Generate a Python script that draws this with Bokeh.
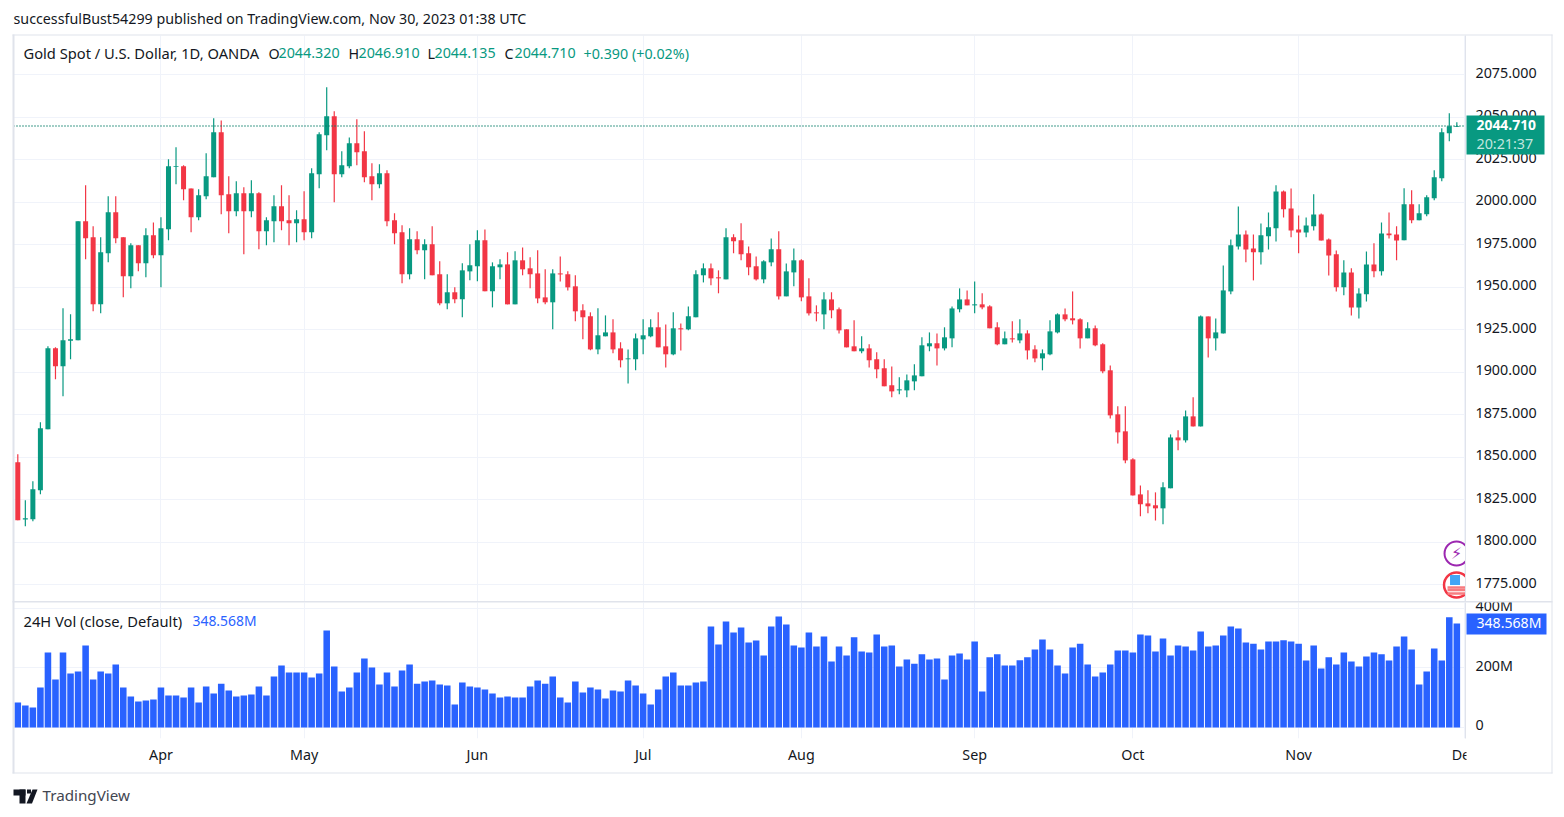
from bokeh.plotting import figure
from bokeh.layouts import column
from bokeh.models import (ColumnDataSource, FixedTicker, LinearAxis, PrintfTickFormatter, Range1d, Span)
from bokeh.embed import file_html
from bokeh.resources import INLINE
from bokeh.core.properties import value

opens = [1846.9,1813.3,1813.4,1830.4,1866.3,1914.0,1903.4,1918.4,1918.7,1988.7,
 1979.2,1939.8,1969.8,1994.0,1979.2,1956.3,1974.5,1964.0,1980.4,1968.7,
 1984.0,2020.6,2021.0,2008.0,1991.0,2003.4,2014.5,2041.0,2004.5,1994.5,
 2005.1,1994.5,2005.1,1982.8,1988.7,1997.5,1989.2,1987.5,1989.8,1982.2,
 2016.3,2039.2,2050.4,2016.3,2021.0,2034.5,2029.8,2015.1,2010.4,2016.9,
 1989.2,1982.2,1957.5,1978.1,1971.6,1975.1,1957.5,1940.4,1946.9,1942.8,
 1959.2,1962.2,1977.5,1947.5,1961.6,1963.3,1939.8,1965.7,1961.0,1958.0,
 1943.9,1941.0,1958.0,1957.5,1950.4,1936.3,1932.8,1913.3,1921.0,1923.3,
 1913.9,1907.5,1907.5,1919.2,1921.0,1926.3,1915.1,1910.4,1925.7,1925.1,
 1932.2,1956.9,1961.0,1955.7,1954.5,1979.2,1977.5,1969.8,1962.2,1954.5,
 1964.5,1972.2,1944.5,1958.6,1965.7,1944.5,1935.1,1933.9,1942.7,1936.9,
 1925.1,1915.1,1912.2,1913.9,1907.5,1902.2,1892.2,1889.2,1889.2,1894.5,
 1897.5,1915.1,1916.9,1913.9,1919.8,1936.9,1942.7,1939.2,1939.8,1938.6,
 1926.3,1916.3,1919.8,1918.6,1922.7,1913.3,1908.0,1910.4,1923.3,1933.9,
 1931.6,1931.0,1919.8,1925.7,1916.3,1901.0,1875.1,1865.1,1848.6,1828.0,
 1822.7,1821.6,1819.8,1831.6,1861.5,1859.8,1873.9,1868.0,1932.7,1919.8,
 1922.7,1947.4,1973.9,1980.9,1972.7,1970.4,1979.8,1984.5,2006.2,1996.2,
 1983.9,1982.1,1985.7,1992.7,1978.0,1969.2,1949.8,1958.6,1938.0,1945.7,
 1963.3,1959.2,1981.5,1980.9,1977.5,1998.7,1989.3,1992.8,2002.2,2014.0,
 2040.5,2044.32]
highs = [1851.6,1824.6,1835.7,1870.4,1915.1,1914.6,1937.5,1934.0,1988.7,2009.8,
 1985.7,1979.2,2003.4,2003.4,1979.2,1975.7,1974.5,1984.5,1988.0,1991.0,
 2025.1,2032.2,2021.6,2008.0,2007.5,2028.7,2049.2,2048.0,2015.1,2012.2,
 2008.7,2012.8,2005.7,1991.0,2004.0,2009.8,2004.0,1995.1,2006.3,2019.8,
 2041.0,2067.5,2053.4,2029.8,2038.0,2048.7,2041.6,2022.8,2022.2,2018.7,
 1993.4,1986.3,1984.5,1982.8,1978.1,1985.7,1965.1,1957.5,1949.8,1964.0,
 1975.1,1983.4,1983.9,1964.5,1966.3,1970.4,1971.0,1973.3,1967.5,1971.6,
 1960.4,1960.4,1968.0,1959.2,1956.9,1939.8,1935.1,1937.5,1933.3,1931.0,
 1917.5,1913.3,1922.7,1931.0,1931.0,1935.1,1928.0,1935.1,1928.6,1938.6,
 1959.8,1963.9,1963.9,1959.8,1984.5,1981.0,1987.5,1973.9,1968.0,1965.7,
 1978.6,1982.8,1963.9,1972.7,1966.3,1955.1,1939.2,1946.9,1946.9,1938.0,
 1925.1,1930.4,1921.0,1916.3,1911.6,1907.5,1903.3,1896.9,1898.6,1904.5,
 1920.4,1923.3,1922.7,1926.3,1938.6,1949.2,1948.0,1953.3,1946.3,1939.2,
 1929.2,1923.9,1929.8,1931.0,1924.5,1915.7,1913.3,1930.4,1934.5,1937.4,
 1947.4,1931.6,1929.2,1927.4,1916.9,1903.9,1879.8,1879.8,1849.2,1833.3,
 1830.4,1829.2,1835.1,1863.3,1865.7,1877.4,1885.1,1933.3,1932.7,1931.5,
 1962.7,1978.0,1997.4,1983.3,1980.9,1987.4,1993.9,2009.8,2006.8,2008.0,
 1992.1,1990.9,2004.5,1993.3,1978.6,1971.5,1965.7,1961.0,1949.2,1970.9,
 1975.7,1988.0,1993.9,1985.7,2008.1,2006.9,1998.7,2004.0,2018.7,2043.4,
 2052.2,2046.91]
lows = [1812.8,1809.3,1812.2,1828.1,1866.3,1895.7,1885.7,1907.5,1918.7,1966.3,
 1935.7,1934.5,1964.5,1975.7,1944.0,1949.2,1959.2,1955.7,1966.9,1949.8,
 1977.5,2010.4,2001.0,1982.2,1989.2,2001.6,2014.5,1992.8,1981.6,1991.6,
 1969.2,1991.0,1972.2,1974.5,1976.3,1983.4,1974.5,1976.3,1977.5,1978.7,
 2008.1,2030.4,1999.8,2014.5,2019.8,2021.6,2011.6,2001.0,2008.1,1985.7,
 1975.1,1952.2,1954.5,1969.2,1954.5,1956.9,1939.2,1936.9,1940.4,1932.2,
 1954.0,1953.4,1947.5,1938.0,1954.5,1939.8,1939.8,1956.9,1949.2,1940.4,
 1939.8,1925.1,1953.3,1948.0,1929.8,1919.2,1912.8,1910.4,1921.0,1911.0,
 1902.7,1893.3,1901.0,1910.4,1920.4,1914.5,1902.7,1909.8,1912.7,1924.5,
 1932.2,1952.7,1951.0,1946.3,1954.5,1969.8,1965.7,1956.9,1953.9,1952.2,
 1962.2,1942.7,1944.5,1950.4,1941.6,1933.3,1929.8,1925.1,1931.6,1922.7,
 1914.5,1912.2,1911.0,1902.7,1896.3,1891.6,1885.1,1886.9,1885.1,1889.2,
 1897.5,1912.2,1903.9,1912.7,1914.5,1935.1,1939.2,1934.5,1936.9,1925.7,
 1915.7,1916.3,1917.4,1916.9,1907.4,1905.7,1901.0,1909.8,1922.7,1929.8,
 1928.0,1913.9,1919.8,1915.1,1899.2,1872.7,1858.0,1846.3,1827.4,1815.1,
 1816.9,1812.7,1810.4,1831.6,1854.0,1858.6,1868.0,1868.0,1908.6,1912.7,
 1922.7,1945.7,1972.1,1964.5,1953.9,1963.3,1972.1,1976.8,1990.9,1979.2,
 1969.8,1979.2,1983.3,1977.4,1956.8,1947.4,1945.1,1933.3,1931.5,1941.5,
 1955.7,1956.8,1978.6,1965.7,1977.5,1987.5,1989.3,1991.6,2001.0,2012.2,
 2035.7,2044.135]
closes = [1812.8,1814.0,1831.0,1866.9,1914.0,1903.4,1918.7,1919.3,1988.7,1978.7,
 1939.8,1970.4,1994.0,1978.7,1956.3,1974.5,1964.0,1980.4,1968.7,1984.5,
 2021.0,2021.0,2007.5,1991.0,2004.0,2015.1,2041.0,2004.0,1994.5,2005.1,
 1994.5,2005.1,1982.8,1989.2,1997.5,1988.7,1987.5,1989.8,1982.2,2016.9,
 2039.8,2050.4,2016.3,2021.6,2034.5,2029.2,2014.5,2010.4,2016.9,1988.7,
 1981.6,1957.5,1978.1,1971.6,1975.1,1956.9,1940.4,1946.9,1942.8,1959.8,
 1962.8,1977.5,1947.5,1962.2,1963.3,1939.8,1965.7,1960.4,1957.5,1943.3,
 1941.0,1958.0,1957.4,1949.8,1935.7,1932.2,1913.3,1921.6,1923.3,1913.3,
 1906.9,1908.0,1919.8,1921.6,1926.3,1914.5,1910.4,1925.7,1925.1,1932.8,
 1957.5,1961.0,1955.1,1955.1,1979.2,1976.9,1969.2,1961.6,1954.5,1965.1,
 1972.2,1944.5,1959.2,1965.7,1943.9,1934.5,1934.5,1942.7,1936.3,1924.5,
 1914.5,1912.2,1913.9,1906.9,1901.6,1891.6,1888.6,1889.8,1895.1,1898.0,
 1915.7,1916.9,1913.9,1920.4,1937.4,1942.7,1939.2,1939.8,1938.0,1925.7,
 1916.3,1919.8,1919.2,1922.7,1912.7,1908.0,1911.0,1923.9,1933.9,1931.0,
 1930.4,1919.8,1925.7,1915.7,1900.4,1874.5,1864.5,1848.0,1827.4,1822.2,
 1821.0,1819.8,1832.2,1861.5,1859.8,1873.9,1868.0,1932.7,1919.8,1923.3,
 1948.0,1974.5,1980.9,1972.1,1970.4,1980.4,1985.1,2006.2,1995.7,1983.3,
 1982.1,1986.2,1992.7,1977.4,1968.6,1949.8,1958.6,1938.0,1946.2,1963.3,
 1959.2,1981.5,1980.4,1977.4,1998.7,1989.3,1993.4,2002.8,2014.6,2041.0,
 2044.6,2044.71]
volumes = [83.8,73.7,67,134,251,161,251,181,188,275,
 161,188,181,211,134,104,87,90.5,94,134,
 107,107,100.5,134,84,137,114,147,124,104,
 107,110.6,137,107,171,208,184,184,184,167.5,
 181,325,204,121,134,184,231,201,144,184,
 137,191,211,147,154,157.5,144,141,77,151,
 137,134,127,114,100.5,104,100.5,100.5,137,157.5,
 147,171,100.5,84,154,117,134,127,97,124,
 121,157.5,141,114,77,127,171,184,141,141,
 151,154,338,278,355,318,335,285,291.5,241,
 338,372,345,275,268,318,271,305,221,271,
 241,302,255,251,312,271,275,204,228,214,
 245,228,231,161,241,248,228,288,121,235,
 245,208,208,225,235,261,295,261,208,181,
 268,281,211,171,184,211,258,258,251,312,
 308,255,298,241,275,271,258,322,271,275,
 308,338,332,285,281,261,288,288,292,288,
 281,224.5,275,198,235,211,251,221,204,238,
 251,245,224.5,271,305,261,144,188,265,224.5,
 369,348.568]

month_ticks = [19, 38, 61, 83, 104, 127, 148, 170, 192]
month_labels = ["Apr", "May", "Jun", "Jul", "Aug", "Sep", "Oct", "Nov", "Dec"]
price_ticks = [1775, 1800, 1825, 1850, 1875, 1900, 1925, 1950, 1975, 2000, 2025, 2050, 2075]
volume_ticks = [0, 200, 400]
volume_labels = ["0", "200M", "400M"]
last_price = 2044.71
event_x = [190.96, 190.96]
event_y = [1793.2, 1774.7]

assert len(opens) == len(highs) == len(lows) == len(closes) == len(volumes) == 192
GREEN, RED, BLUE = "#089981", "#f23645", "#2962ff"
GRID, BORDER, INK = "#f0f3fa", "#e0e3eb", "#131722"
FONT = "Noto Sans"
XR = (-0.571, 192.15)
PR = (1765.0, 2097.95)
VR = (-36.85, 418.8)

idx = list(range(192))
src = ColumnDataSource(dict(
    x=idx, o=opens, h=highs, l=lows, c=closes, v=volumes,
    top=[max(a, b) for a, b in zip(opens, closes)],
    bot=[min(a, b) for a, b in zip(opens, closes)],
    color=[GREEN if c >= o else RED for o, c in zip(opens, closes)],
))


def style_axis(ax):
    ax.major_tick_line_color = None
    ax.minor_tick_line_color = None
    ax.major_tick_out = 0
    ax.major_tick_in = 0
    ax.axis_line_color = BORDER
    ax.major_label_text_color = INK
    ax.major_label_text_font = FONT
    ax.major_label_text_font_size = "14.3px"


# ---------------- price pane
p = figure(width=1556, height=602, output_backend="svg", toolbar_location=None,
           x_range=Range1d(*XR), y_range=Range1d(*PR),
           min_border_left=13, min_border_right=91, min_border_top=35, min_border_bottom=1,
           x_axis_location=None, y_axis_location=None, outline_line_color=None)
p.extra_y_ranges = {"labels": Range1d(PR[0] - 0.9, PR[1] - 0.9)}
p.xgrid.ticker = FixedTicker(ticks=month_ticks)
p.ygrid.ticker = FixedTicker(ticks=price_ticks)
p.xgrid.grid_line_color = GRID
p.ygrid.grid_line_color = GRID
yax = LinearAxis(y_range_name="labels", ticker=FixedTicker(ticks=price_ticks), major_label_standoff=10)
yax.formatter = PrintfTickFormatter(format="%.3f")
style_axis(yax)
p.add_layout(yax, "right")
p.segment("x", "l", "x", "h", source=src, line_color="color", line_width=1.2)
p.vbar("x", width=0.664, top="top", bottom="bot", source=src, fill_color="color", line_alpha=0)
p.add_layout(Span(location=last_price, dimension="width", line_color="#057a66", line_width=1.5,
                  line_dash="1 2"))

# event icons at the right edge of the pane
p.scatter([event_x[0]], [event_y[0]], size=24, marker="circle", fill_color="white",
          line_color="#9c27b0", line_width=2)
p.text([event_x[0]], [event_y[0]], text=["⚡"], text_color="#9c27b0", text_font=value("DejaVu Sans"),
       text_font_size="16px", text_align="center", text_baseline="middle")
p.scatter([event_x[1]], [event_y[1]], size=25, marker="circle", fill_color="white",
          line_color="#f23645", line_width=2.5)
p.scatter([event_x[1]] * 3, [event_y[1] - 1.5, event_y[1] - 5, event_y[1] - 3],
          size=18, marker="dash", line_color="#f77c80", line_width=2.5)
p.scatter([event_x[1] - 0.2], [event_y[1] + 3], size=10, marker="square", fill_color="#42a5f5", line_alpha=0)

# ---------------- volume pane
q = figure(width=1556, height=223, output_backend="svg", toolbar_location=None, margin=(-12, 0, 0, 0),
           x_range=p.x_range, y_range=Range1d(*VR),
           min_border_left=13, min_border_right=91, min_border_top=12, min_border_bottom=75,
           x_axis_location=None, y_axis_location=None, outline_line_color=None,
           border_fill_color=None, background_fill_color=None)
q.extra_y_ranges = {"labels": Range1d(VR[0] - 8.4, VR[1] - 8.4)}
q.xgrid.ticker = FixedTicker(ticks=month_ticks)
q.ygrid.ticker = FixedTicker(ticks=volume_ticks)
q.xgrid.grid_line_color = GRID
q.ygrid.grid_line_color = GRID
vax = LinearAxis(y_range_name="labels", ticker=FixedTicker(ticks=volume_ticks), major_label_standoff=10,
                 major_label_overrides=dict(zip(volume_ticks, volume_labels)))
style_axis(vax)
q.add_layout(vax, "right")
xax = LinearAxis(ticker=FixedTicker(ticks=month_ticks), major_label_standoff=6,
                 major_label_overrides=dict(zip(month_ticks, month_labels)))
style_axis(xax)
xax.axis_line_color = None
q.add_layout(xax, "below")
q.vbar("x", width=0.87, top="v", bottom=0, source=src, fill_color=BLUE, line_alpha=0)

# ---------------- transparent sheet over both panes: chart frame, tags, header, footer
o = figure(width=1556, height=813, output_backend="svg", toolbar_location=None, margin=(-813, 0, 0, 0),
           x_range=Range1d(0, 1556), y_range=Range1d(813, 0), frame_align=False,
           min_border=0, x_axis_location=None, y_axis_location=None, outline_line_color=None,
           border_fill_color=None, background_fill_color=None)
o.grid.visible = False


def rect(l, r, t, b, color=BORDER):
    o.quad(left=[l], right=[r], top=[t], bottom=[b], fill_color=color, line_alpha=0)


def txt(x, y, text, color=INK, size="14.7px", style="normal"):
    o.text([x], [y], text=[text], text_color=color, text_font=value(FONT), text_font_size=size,
           text_font_style=style, text_align="left", text_baseline="middle")


rect(1466, 1550, 739, 771, "#ffffff")  # clips the "Dec" label at the price scale
rect(12, 14, 34, 773)
rect(1551, 1552, 34, 773)
rect(12, 1552, 34, 35)
rect(12, 1552, 772, 773)
rect(12, 1552, 600.5, 602)

rect(1466, 1544, 115, 154, GREEN)
txt(1476, 124.5, "2044.710", "#ffffff", "13.9px", "bold")
txt(1476, 142.5, "20:21:37", "#c2e6df", "14.3px")
rect(1466, 1546, 613, 634, BLUE)
txt(1476, 622, "348.568M", "#ffffff", "14.1px")

txt(13, 17.5, "successfulBust54299 published on TradingView.com, Nov 30, 2023 01:38 UTC", size="14.25px")
txt(23, 52.5, "Gold Spot / U.S. Dollar, 1D, OANDA")
for x, t, c in [(268, "O", INK), (278, "2044.320", GREEN), (348, "H", INK), (358, "2046.910", GREEN),
                (427, "L", INK), (434, "2044.135", GREEN), (504, "C", INK), (514, "2044.710", GREEN),
                (583, "+0.390 (+0.02%)", GREEN)]:
    txt(x, 52.5, t, c, "14.3px")
txt(23, 620, "24H Vol (close, Default)")
txt(192, 620, "348.568M", BLUE, "13.9px")

rect(13, 25, 789, 795, INK)
rect(19, 25, 789, 803, INK)
rect(26.5, 30.5, 789, 793, INK)
o.patch([32, 37, 31.5, 26], [789, 789, 803, 803], fill_color=INK, line_alpha=0)
txt(42, 794.5, "TradingView", "#434651", "15.2px")

layout = column(p, q, o, spacing=0)
open("out.html", "w").write(file_html(layout, INLINE))
